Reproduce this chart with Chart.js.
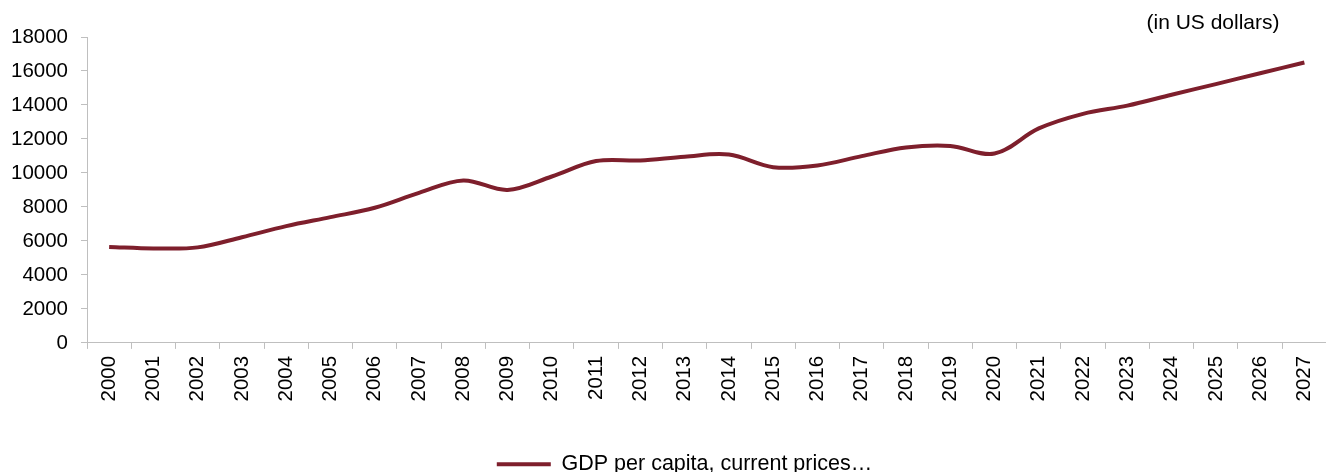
<!DOCTYPE html>
<html>
<head>
<meta charset="utf-8">
<title>GDP per capita</title>
<script src="https://cdn.jsdelivr.net/npm/chart.js@4/dist/chart.umd.min.js"></script>
<style>
  html, body { margin: 0; padding: 0; background: #fff; overflow: hidden; }
</style>
</head>
<body>
<canvas id="gdp" width="1336" height="472"></canvas>
<script>
const years = ["2000", "2001", "2002", "2003", "2004", "2005", "2006", "2007", "2008", "2009",
  "2010", "2011", "2012", "2013", "2014", "2015", "2016", "2017", "2018", "2019",
  "2020", "2021", "2022", "2023", "2024", "2025", "2026", "2027"];
const gdpPerCapita = [5650, 5560, 5620, 6220, 6870, 7400, 7950, 8830, 9560, 9000,
  9790, 10700, 10740, 10960, 11080, 10340, 10440, 10990, 11500, 11590,
  11140, 12620, 13480, 13960, 14600, 15230, 15870, 16500];
const yTicks = [0, 2000, 4000, 6000, 8000, 10000, 12000, 14000, 16000, 18000];
const seriesLabel = "GDP per capita, current prices…";
const unitNote = "(in US dollars)";

const FONT = '"Liberation Sans", Arial, sans-serif';
const LINE = "#7e1f2c";
const AXIS = "#bfbfbf";

// small note in the top right corner
const unitNotePlugin = {
  id: "unitNote",
  afterDraw(chart) {
    const { ctx, chartArea } = chart;
    ctx.save();
    ctx.font = "21px " + FONT;
    ctx.fillStyle = "#000";
    ctx.textAlign = "right";
    ctx.textBaseline = "middle";
    ctx.fillText(unitNote, chartArea.right - 47, 23);
    ctx.restore();
  },
};

// push the legend a bit right/down, like the original
const legendNudge = {
  id: "legendNudge",
  afterLayout(chart) {
    const lg = chart.legend;
    lg.left += 18;
    lg.right += 18;
    lg.top += 13;
    lg.bottom += 13;
  },
};

new Chart(document.getElementById("gdp"), {
  type: "line",
  data: {
    labels: years,
    datasets: [
      {
        label: seriesLabel,
        data: gdpPerCapita,
        borderColor: LINE,
        backgroundColor: LINE,
        borderWidth: 4,
        pointRadius: 0,
        tension: 0.35,
        fill: false,
      },
    ],
  },
  options: {
    responsive: false,
    devicePixelRatio: 1,
    animation: false,
    layout: {
      padding: { top: 37, left: -2, right: 1, bottom: 0 },
    },
    plugins: {
      legend: {
        display: true,
        position: "bottom",
        labels: {
          usePointStyle: true,
          pointStyle: "line",
          pointStyleWidth: 54,
          padding: 32,
          color: "#000",
          font: { family: FONT, size: 21.5 },
        },
      },
      tooltip: { enabled: false },
    },
    scales: {
      x: {
        offset: true,
        grid: {
          offset: true,
          drawOnChartArea: false,
          tickLength: 6,
          color: AXIS,
        },
        border: { color: AXIS },
        ticks: {
          autoSkip: false,
          minRotation: 90,
          maxRotation: 90,
          padding: 7,
          color: "#000",
          font: { family: FONT, size: 20.5 },
        },
      },
      y: {
        min: 0,
        max: 18000,
        afterBuildTicks: (scale) => {
          scale.ticks = yTicks.map((v) => ({ value: v }));
        },
        grid: {
          drawOnChartArea: false,
          tickLength: 6,
          color: AXIS,
        },
        border: { color: AXIS },
        ticks: {
          padding: 13,
          color: "#000",
          font: { family: FONT, size: 20.5 },
          callback: (v) => String(v),
        },
      },
    },
  },
  plugins: [unitNotePlugin, legendNudge],
});
</script>
</body>
</html>
